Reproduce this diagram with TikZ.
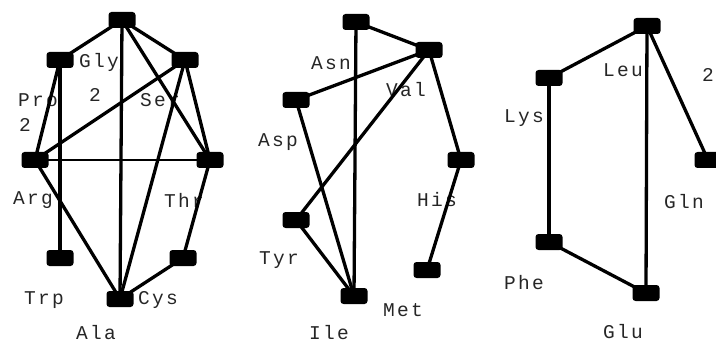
\documentclass[tikz,border=0pt]{standalone}
\usepackage{fontspec}
\newfontfamily\labfont[LetterSpace=12]{Liberation Mono}
\begin{document}
\begin{tikzpicture}[x=1pt,y=-1pt,
  nd/.style={fill=black,draw=none,rounded corners=3pt,minimum width=27pt,minimum height=16pt,inner sep=0pt},
  lab/.style={text=black!85,inner sep=0pt,font=\labfont\fontsize{19.5}{19.5}\selectfont},
  edge/.style={line width=3.3pt,black}]
\useasboundingbox (0,0) rectangle (716,345);
\clip (0,0) rectangle (716,345);
% labels group 1
\node[lab] (lGly) at (99,62) {Gly};
\node[lab] (l2a) at (95,95) {2};
\node[lab] (lPro) at (38,100) {Pro};
\node[lab] (lSer) at (160,100) {Ser};
\node[lab] (l2b) at (25,125) {2};
\node[lab] (lArg) at (33,200) {Arg};
\node[lab] (lThr) at (184,200) {Thr};
\node[lab] (lTrp) at (44,300) {Trp};
\node[lab] (lCys) at (158,300) {Cys};
\node[lab] (lAla) at (96,333) {Ala};
% labels group 2
\node[lab] (lAsn) at (331,63) {Asn};
\node[lab] (lVal) at (406,90) {Val};
\node[lab] (lAsp) at (278,142) {Asp};
\node[lab] (lHis) at (437,200) {His};
\node[lab] (lTyr) at (279,260) {Tyr};
\node[lab] (lMet) at (403,310) {Met};
\node[lab] (lIle) at (329,333) {Ile};
% labels group 3
\node[lab] (lLeu) at (623,70) {Leu};
\node[lab] (l2c) at (708,75) {2};
\node[lab] (lLys) at (524,118) {Lys};
\node[lab] (lGln) at (684,202) {Gln};
\node[lab] (lPhe) at (524,283) {Phe};
\node[lab] (lGlu) at (623,332) {Glu};
% nodes group 1
\node[nd] (a1) at (122,20) {};
\node[nd] (a2) at (60,60) {};
\node[nd] (a3) at (185,60) {};
\node[nd] (a4) at (35,160) {};
\node[nd] (a5) at (210,160) {};
\node[nd] (a6) at (60,258) {};
\node[nd] (a7) at (183,258) {};
\node[nd] (a8) at (120,299) {};
% nodes group 2
\node[nd] (b1) at (356,22) {};
\node[nd] (b2) at (429,50) {};
\node[nd] (b3) at (296,100) {};
\node[nd] (b4) at (461,160) {};
\node[nd] (b5) at (296,220) {};
\node[nd] (b6) at (354,296) {};
\node[nd] (b7) at (427,270) {};
% nodes group 3
\node[nd] (c1) at (647,26) {};
\node[nd] (c2) at (549,78) {};
\node[nd] (c3) at (708,160) {};
\node[nd] (c4) at (549,242) {};
\node[nd] (c5) at (646,293) {};
% edges group 1
\draw[edge] (a1.center) -- (a2.center);
\draw[edge] (a1.center) -- (a3.center);
\draw[edge] (a1.center) -- (a8.center);
\draw[edge] (a1.center) -- (a5.center);
\draw[edge] (a2.center) -- (a4.center);
\draw[edge] (a2.center) -- (a6.center);
\draw[edge] (a3.center) -- (a4.center);
\draw[edge] (a3.center) -- (a5.center);
\draw[edge] (a3.center) -- (a8.center);
\draw[line width=2pt] (a4.center) -- (a5.center);
\draw[edge] (a4.center) -- (a8.center);
\draw[edge] (a5.center) -- (a7.center);
\draw[edge] (a7.center) -- (a8.center);
% edges group 2
\draw[edge] (b1.center) -- (b2.center);
\draw[edge] (b1.center) -- (b6.center);
\draw[edge] (b2.center) -- (b3.center);
\draw[edge] (b2.center) -- (b5.center);
\draw[edge] (b2.center) -- (b4.center);
\draw[edge] (b3.center) -- (b6.center);
\draw[edge] (b5.center) -- (b6.center);
\draw[edge] (b4.center) -- (b7.center);
% edges group 3
\draw[edge] (c1.center) -- (c2.center);
\draw[edge] (c1.center) -- (c5.center);
\draw[edge] (c1.center) -- (c3.center);
\draw[edge] (c2.center) -- (c4.center);
\draw[edge] (c4.center) -- (c5.center);
\end{tikzpicture}
\end{document}
